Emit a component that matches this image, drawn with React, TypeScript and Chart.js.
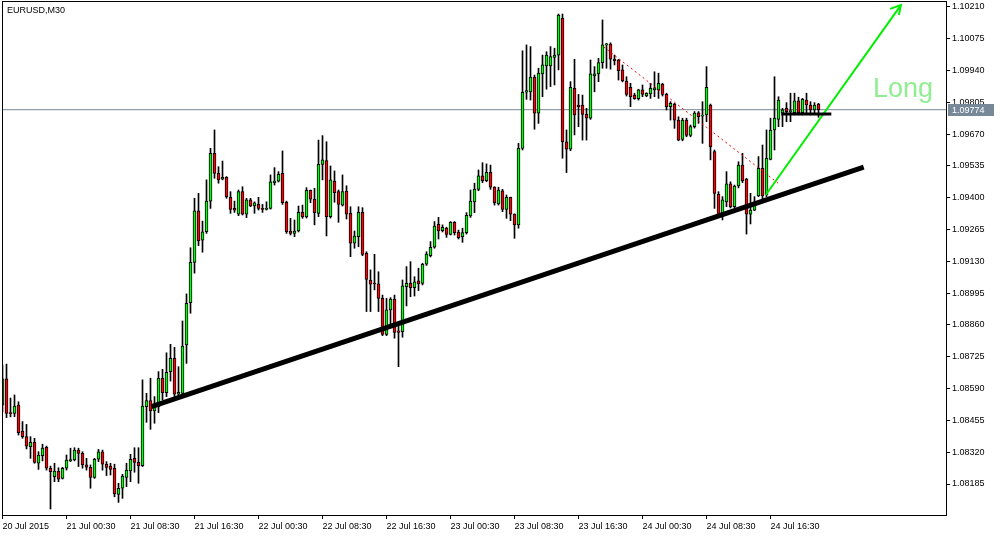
import React, { useEffect, useRef } from "react";
import { Chart, registerables } from "chart.js";

Chart.register(...registerables);

// ---- Data (EURUSD, M30) ----
const opens = [
  1.08520, 1.08631, 1.08487, 1.08485, 1.08520, 1.08410, 1.08386, 1.08343, 1.08362, 1.08273,
  1.08305, 1.08341, 1.08252, 1.08216, 1.08240, 1.08209, 1.08252, 1.08283, 1.08287, 1.08329,
  1.08315, 1.08266, 1.08256, 1.08213, 1.08290, 1.08322, 1.08269, 1.08261, 1.08252, 1.08141,
  1.08167, 1.08213, 1.08240, 1.08294, 1.08277, 1.08263, 1.08513, 1.08539, 1.08495, 1.08513,
  1.08634, 1.08573, 1.08662, 1.08719, 1.08566, 1.08570, 1.08775, 1.08955, 1.09126, 1.09345,
  1.09220, 1.09256, 1.09386, 1.09589, 1.09504, 1.09479, 1.09487, 1.09402, 1.09355, 1.09330,
  1.09426, 1.09330, 1.09391, 1.09366, 1.09372, 1.09352, 1.09351, 1.09355, 1.09464, 1.09471,
  1.09504, 1.09381, 1.09259, 1.09249, 1.09259, 1.09338, 1.09319, 1.09432, 1.09395, 1.09334,
  1.09542, 1.09558, 1.09320, 1.09471, 1.09426, 1.09369, 1.09429, 1.09334, 1.09207, 1.09235,
  1.09338, 1.09164, 1.09051, 1.09035, 1.09035, 1.08973, 1.08820, 1.08924, 1.08970, 1.08835,
  1.08832, 1.09023, 1.09037, 1.09018, 1.09047, 1.09037, 1.09118, 1.09154, 1.09190, 1.09287,
  1.09260, 1.09271, 1.09245, 1.09296, 1.09254, 1.09235, 1.09252, 1.09323, 1.09383, 1.09436,
  1.09493, 1.09473, 1.09508, 1.09445, 1.09374, 1.09430, 1.09351, 1.09402, 1.09331, 1.09285,
  1.09610, 1.09848, 1.09850, 1.09912, 1.09759, 1.09926, 1.09960, 1.09960, 1.09996, 1.10006,
  1.10162, 1.09638, 1.09606, 1.09865, 1.09794, 1.09794, 1.09754, 1.09738, 1.09917, 1.09926,
  1.09974, 1.10049, 1.10053, 1.09988, 1.09985, 1.09943, 1.09896, 1.09869, 1.09836, 1.09821,
  1.09858, 1.09832, 1.09841, 1.09858, 1.09858, 1.09882, 1.09839, 1.09787, 1.09798, 1.09730,
  1.09648, 1.09730, 1.09665, 1.09702, 1.09761, 1.09747, 1.09752, 1.09794, 1.09596, 1.09415,
  1.09334, 1.09383, 1.09459, 1.09362, 1.09450, 1.09539, 1.09479, 1.09331, 1.09348, 1.09408,
  1.09525, 1.09412, 1.09563, 1.09688, 1.09733, 1.09759, 1.09780, 1.09766, 1.09761, 1.09812,
  1.09761, 1.09815, 1.09794, 1.09773, 1.09798,
];
const highs = [
  1.08690, 1.08694, 1.08550, 1.08563, 1.08534, 1.08450, 1.08438, 1.08386, 1.08379, 1.08322,
  1.08354, 1.08346, 1.08261, 1.08273, 1.08254, 1.08256, 1.08308, 1.08337, 1.08339, 1.08337,
  1.08322, 1.08294, 1.08266, 1.08294, 1.08332, 1.08329, 1.08280, 1.08273, 1.08269, 1.08188,
  1.08226, 1.08273, 1.08311, 1.08339, 1.08339, 1.08627, 1.08570, 1.08634, 1.08556, 1.08662,
  1.08672, 1.08742, 1.08778, 1.08765, 1.08683, 1.08877, 1.08992, 1.09188, 1.09398, 1.09419,
  1.09301, 1.09476, 1.09610, 1.09688, 1.09532, 1.09556, 1.09490, 1.09426, 1.09386, 1.09433,
  1.09447, 1.09398, 1.09398, 1.09383, 1.09402, 1.09372, 1.09383, 1.09497, 1.09528, 1.09511,
  1.09599, 1.09386, 1.09313, 1.09306, 1.09365, 1.09369, 1.09443, 1.09433, 1.09440, 1.09645,
  1.09664, 1.09638, 1.09535, 1.09514, 1.09433, 1.09497, 1.09451, 1.09362, 1.09259, 1.09362,
  1.09358, 1.09171, 1.09094, 1.09160, 1.09086, 1.08987, 1.08973, 1.08976, 1.08987, 1.08860,
  1.09051, 1.09108, 1.09129, 1.09065, 1.09101, 1.09122, 1.09171, 1.09214, 1.09299, 1.09317,
  1.09285, 1.09275, 1.09299, 1.09299, 1.09263, 1.09271, 1.09337, 1.09433, 1.09462, 1.09518,
  1.09549, 1.09544, 1.09539, 1.09447, 1.09445, 1.09436, 1.09412, 1.09403, 1.09332, 1.09631,
  1.10024, 1.10049, 1.10042, 1.09921, 1.09950, 1.10006, 1.10020, 1.10042, 1.10035, 1.10180,
  1.10180, 1.09688, 1.09893, 1.09988, 1.09839, 1.09836, 1.09780, 1.09985, 1.09957, 1.09992,
  1.10155, 1.10056, 1.10058, 1.10006, 1.09988, 1.09964, 1.09914, 1.09886, 1.09844, 1.09861,
  1.09879, 1.09846, 1.09886, 1.09935, 1.09929, 1.09886, 1.09844, 1.09808, 1.09801, 1.09744,
  1.09738, 1.09738, 1.09709, 1.09766, 1.09766, 1.09808, 1.09957, 1.09798, 1.09603, 1.09426,
  1.09405, 1.09511, 1.09468, 1.09454, 1.09553, 1.09589, 1.09483, 1.09419, 1.09405, 1.09575,
  1.09624, 1.09688, 1.09738, 1.09914, 1.09829, 1.09780, 1.09804, 1.09844, 1.09844, 1.09827,
  1.09822, 1.09844, 1.09808, 1.09804, 1.09801,
];
const lows = [
  1.08491, 1.08467, 1.08470, 1.08471, 1.08393, 1.08379, 1.08334, 1.08294, 1.08273, 1.08247,
  1.08283, 1.08244, 1.08079, 1.08195, 1.08195, 1.08206, 1.08244, 1.08280, 1.08283, 1.08259,
  1.08252, 1.08244, 1.08167, 1.08209, 1.08280, 1.08244, 1.08221, 1.08223, 1.08131, 1.08107,
  1.08124, 1.08174, 1.08195, 1.08235, 1.08188, 1.08259, 1.08447, 1.08417, 1.08443, 1.08488,
  1.08542, 1.08556, 1.08622, 1.08556, 1.08559, 1.08563, 1.08697, 1.08910, 1.09080, 1.09197,
  1.09169, 1.09249, 1.09355, 1.09483, 1.09462, 1.09476, 1.09398, 1.09334, 1.09338, 1.09324,
  1.09327, 1.09316, 1.09362, 1.09334, 1.09348, 1.09338, 1.09348, 1.09352, 1.09454, 1.09467,
  1.09372, 1.09249, 1.09242, 1.09235, 1.09255, 1.09313, 1.09314, 1.09379, 1.09285, 1.09320,
  1.09476, 1.09238, 1.09314, 1.09381, 1.09296, 1.09365, 1.09310, 1.09150, 1.09186, 1.09192,
  1.09154, 1.08917, 1.08917, 1.09009, 1.08917, 1.08815, 1.08815, 1.08860, 1.08804, 1.08683,
  1.08808, 1.08941, 1.08980, 1.08983, 1.09006, 1.09030, 1.09113, 1.09149, 1.09186, 1.09225,
  1.09255, 1.09232, 1.09242, 1.09242, 1.09225, 1.09211, 1.09246, 1.09317, 1.09337, 1.09430,
  1.09464, 1.09468, 1.09436, 1.09369, 1.09369, 1.09341, 1.09313, 1.09303, 1.09228, 1.09271,
  1.09603, 1.09818, 1.09815, 1.09691, 1.09716, 1.09829, 1.09861, 1.09872, 1.09879, 1.09943,
  1.09568, 1.09507, 1.09600, 1.09667, 1.09702, 1.09645, 1.09645, 1.09733, 1.09850, 1.09893,
  1.09950, 1.09950, 1.09946, 1.09964, 1.09900, 1.09892, 1.09832, 1.09787, 1.09818, 1.09815,
  1.09829, 1.09829, 1.09822, 1.09829, 1.09822, 1.09832, 1.09773, 1.09730, 1.09695, 1.09642,
  1.09642, 1.09659, 1.09659, 1.09696, 1.09716, 1.09631, 1.09723, 1.09561, 1.09355, 1.09320,
  1.09306, 1.09362, 1.09357, 1.09357, 1.09442, 1.09464, 1.09246, 1.09289, 1.09345, 1.09405,
  1.09391, 1.09405, 1.09561, 1.09603, 1.09702, 1.09702, 1.09723, 1.09723, 1.09752, 1.09752,
  1.09752, 1.09759, 1.09752, 1.09759, 1.09742,
];
const closes = [
  1.08631, 1.08485, 1.08484, 1.08516, 1.08403, 1.08386, 1.08346, 1.08362, 1.08277, 1.08308,
  1.08337, 1.08252, 1.08237, 1.08240, 1.08206, 1.08252, 1.08287, 1.08289, 1.08329, 1.08315,
  1.08266, 1.08256, 1.08213, 1.08290, 1.08322, 1.08269, 1.08255, 1.08247, 1.08143, 1.08167,
  1.08219, 1.08244, 1.08290, 1.08277, 1.08263, 1.08516, 1.08539, 1.08495, 1.08511, 1.08634,
  1.08573, 1.08659, 1.08719, 1.08566, 1.08574, 1.08771, 1.08952, 1.09126, 1.09345, 1.09217,
  1.09256, 1.09386, 1.09589, 1.09504, 1.09476, 1.09487, 1.09405, 1.09351, 1.09347, 1.09426,
  1.09330, 1.09391, 1.09366, 1.09379, 1.09355, 1.09351, 1.09355, 1.09468, 1.09471, 1.09500,
  1.09379, 1.09256, 1.09249, 1.09259, 1.09338, 1.09319, 1.09432, 1.09394, 1.09337, 1.09542,
  1.09561, 1.09320, 1.09476, 1.09422, 1.09372, 1.09426, 1.09330, 1.09207, 1.09238, 1.09338,
  1.09160, 1.09054, 1.09033, 1.09034, 1.08973, 1.08820, 1.08924, 1.08970, 1.08829, 1.08829,
  1.09026, 1.09037, 1.09018, 1.09043, 1.09034, 1.09118, 1.09161, 1.09190, 1.09280, 1.09259,
  1.09275, 1.09245, 1.09296, 1.09252, 1.09231, 1.09252, 1.09326, 1.09386, 1.09437, 1.09493,
  1.09473, 1.09508, 1.09445, 1.09379, 1.09433, 1.09351, 1.09402, 1.09331, 1.09285, 1.09610,
  1.09848, 1.09855, 1.09912, 1.09759, 1.09929, 1.09964, 1.10006, 1.09999, 1.10006, 1.10176,
  1.09638, 1.09606, 1.09869, 1.09752, 1.09787, 1.09754, 1.09738, 1.09926, 1.09926, 1.09974,
  1.10049, 1.10053, 1.09988, 1.09982, 1.09940, 1.09896, 1.09839, 1.09829, 1.09821, 1.09858,
  1.09839, 1.09844, 1.09865, 1.09867, 1.09886, 1.09839, 1.09787, 1.09801, 1.09730, 1.09645,
  1.09730, 1.09665, 1.09702, 1.09760, 1.09744, 1.09748, 1.09869, 1.09617, 1.09419, 1.09327,
  1.09391, 1.09459, 1.09362, 1.09450, 1.09539, 1.09473, 1.09331, 1.09348, 1.09383, 1.09525,
  1.09408, 1.09568, 1.09688, 1.09738, 1.09815, 1.09773, 1.09766, 1.09767, 1.09812, 1.09761,
  1.09818, 1.09794, 1.09773, 1.09794, 1.09774,
];

const dateLabels = [
  "20 Jul 2015", "21 Jul 00:30", "21 Jul 08:30", "21 Jul 16:30", "22 Jul 00:30",
  "22 Jul 08:30", "22 Jul 16:30", "23 Jul 00:30", "23 Jul 08:30", "23 Jul 16:30",
  "24 Jul 00:30", "24 Jul 08:30", "24 Jul 16:30",
];
const dateLabelBars = [0, 16, 32, 48, 64, 80, 96, 112, 128, 144, 160, 176, 192];
const priceTicks = [
  1.08185, 1.08320, 1.08455, 1.08590, 1.08725, 1.08860, 1.08995, 1.09130,
  1.09265, 1.09400, 1.09535, 1.09670, 1.09805, 1.09940, 1.10075, 1.10210,
];
const lastPrice = 1.09774;

// drawn objects (bar index, price)
const supportLineBars = [37.25, 215.3];
const supportLinePrices = [1.08513, 1.0953];
const flatLineBars = [194.7, 207.2];
const flatLinePrices = [1.09756, 1.09756];
const dottedLineBars = [150.2, 193.9];
const dottedLinePrices = [1.10042, 1.09462];
const arrowBars = [190.8, 224.6];
const arrowPrices = [1.09412, 1.10218];
const arrowHeadBars = [221.9, 224.6, 224.1];
const arrowHeadPrices = [1.10202, 1.10218, 1.10176];
const longText = "Long";
const longBar = 217.6;
const longPrice = 1.09826;

const X_MIN = -0.125;
const X_MAX = 235.875;
const Y_MAX = 1.102312;
const Y_MIN = 1.080534;

const BULL = "#00ff00";
const BEAR = "#ff0000";
const FONT = "'Liberation Sans', Arial, sans-serif";

const pts = (xs: number[], ys: number[]) => xs.map((x, i) => ({ x, y: ys[i] }));

const overlayPlugin = {
  id: "mtOverlay",
  afterDatasetsDraw(chart: any) {
    const { ctx, scales } = chart;
    const xs = scales.x;
    const ys = scales.y;
    ctx.save();
    // "Long" label
    ctx.fillStyle = "#90ee90";
    ctx.font = `27px ${FONT}`;
    ctx.textAlign = "left";
    ctx.textBaseline = "alphabetic";
    ctx.fillText(longText, xs.getPixelForValue(longBar), ys.getPixelForValue(longPrice));
    // frame
    ctx.strokeStyle = "#000";
    ctx.lineWidth = 1;
    ctx.strokeRect(2.5, 1.5, 944, 514);
    // symbol
    ctx.fillStyle = "#000";
    ctx.font = `9px ${FONT}`;
    ctx.textBaseline = "alphabetic";
    ctx.fillText("EURUSD,M30", 7, 12.5);
    // price box
    const py = Math.round(ys.getPixelForValue(lastPrice));
    ctx.fillStyle = "#778899";
    ctx.fillRect(948, py - 6, 46, 12);
    ctx.fillStyle = "#fff";
    ctx.font = `9px ${FONT}`;
    ctx.textBaseline = "middle";
    ctx.fillText(lastPrice.toFixed(5), 952, py + 0.5);
    ctx.restore();
  },
};

export default function App() {
  const ref = useRef<HTMLCanvasElement | null>(null);
  useEffect(() => {
    if (!ref.current) return;
    const bodyData = opens.map((o, i) => ({ x: i, y: [o, closes[i]] }));
    const wickData = lows.map((l, i) => ({ x: i, y: [l, highs[i]] }));
    const bodyColors = opens.map((o, i) => (closes[i] >= o ? BULL : BEAR));
    const chart = new Chart(ref.current, {
      type: "bar",
      data: {
        datasets: [
          {
            type: "line",
            data: pts(supportLineBars, supportLinePrices),
            borderColor: "#000",
            borderWidth: 5,
            pointRadius: 0,
            order: 0,
          } as any,
          {
            type: "line",
            data: pts(flatLineBars, flatLinePrices),
            borderColor: "#000",
            borderWidth: 3,
            pointRadius: 0,
            order: 0,
          } as any,
          {
            type: "line",
            data: pts(dottedLineBars, dottedLinePrices),
            borderColor: "#ff0000",
            borderWidth: 1,
            borderDash: [2, 3],
            pointRadius: 0,
            order: 0,
          } as any,
          {
            type: "line",
            data: pts(arrowBars, arrowPrices),
            borderColor: "#00ee00",
            borderWidth: 2,
            pointRadius: 0,
            order: 0,
          } as any,
          {
            type: "line",
            data: pts(arrowHeadBars, arrowHeadPrices),
            borderColor: "#00ee00",
            borderWidth: 2,
            pointRadius: 0,
            order: 0,
          } as any,
          {
            type: "bar",
            data: bodyData,
            backgroundColor: bodyColors,
            borderColor: "#000",
            borderWidth: 1,
            borderSkipped: false,
            barThickness: 3,
            minBarLength: 1,
            grouped: false,
            order: 1,
          } as any,
          {
            type: "bar",
            data: wickData,
            backgroundColor: "#000",
            borderWidth: 0,
            barThickness: 1,
            grouped: false,
            order: 2,
          } as any,
          {
            type: "line",
            data: pts([X_MIN, X_MAX], [lastPrice, lastPrice]),
            borderColor: "#778899",
            borderWidth: 1,
            pointRadius: 0,
            order: 5,
          } as any,
        ],
      },
      options: {
        animation: false,
        responsive: false,
        devicePixelRatio: 1,
        layout: { padding: { left: 2, top: 2, right: 0, bottom: 0 } },
        plugins: { legend: { display: false }, tooltip: { enabled: false } },
        scales: {
          x: {
            type: "linear",
            min: X_MIN,
            max: X_MAX,
            offset: false,
            border: { display: false },
            grid: {
              offset: false,
              drawOnChartArea: false,
              drawTicks: true,
              tickLength: 4,
              tickColor: "#000",
            },
            ticks: {
              autoSkip: false,
              maxRotation: 0,
              minRotation: 0,
              align: "start",
              padding: 2,
              color: "#000",
              font: { family: FONT, size: 9 },
              callback: (_v: any, i: number) => dateLabels[i],
            },
            afterBuildTicks: (s: any) => {
              s.ticks = dateLabelBars.map((v) => ({ value: v }));
            },
            afterFit: (s: any) => {
              s.height = 22;
              s.paddingLeft = 0;
              s.paddingRight = 0;
            },
          },
          y: {
            type: "linear",
            position: "right",
            min: Y_MIN,
            max: Y_MAX,
            beginAtZero: false,
            border: { display: false },
            grid: {
              drawOnChartArea: false,
              drawTicks: true,
              tickLength: 4,
              tickColor: "#000",
            },
            ticks: {
              autoSkip: false,
              padding: 2,
              color: "#000",
              font: { family: FONT, size: 9 },
              callback: (v: any) => Number(v).toFixed(5),
            },
            afterBuildTicks: (s: any) => {
              s.ticks = priceTicks.map((v) => ({ value: v }));
            },
            afterFit: (s: any) => {
              s.width = 54;
              s.paddingTop = 0;
              s.paddingBottom = 0;
            },
          },
        },
      } as any,
      plugins: [overlayPlugin],
    });
    return () => chart.destroy();
  }, []);
  return (
    <div style={{ position: "absolute", left: 0, top: 0, width: 1000, height: 537, background: "#fff" }}>
      <canvas ref={ref} width={1000} height={537} />
    </div>
  );
}
